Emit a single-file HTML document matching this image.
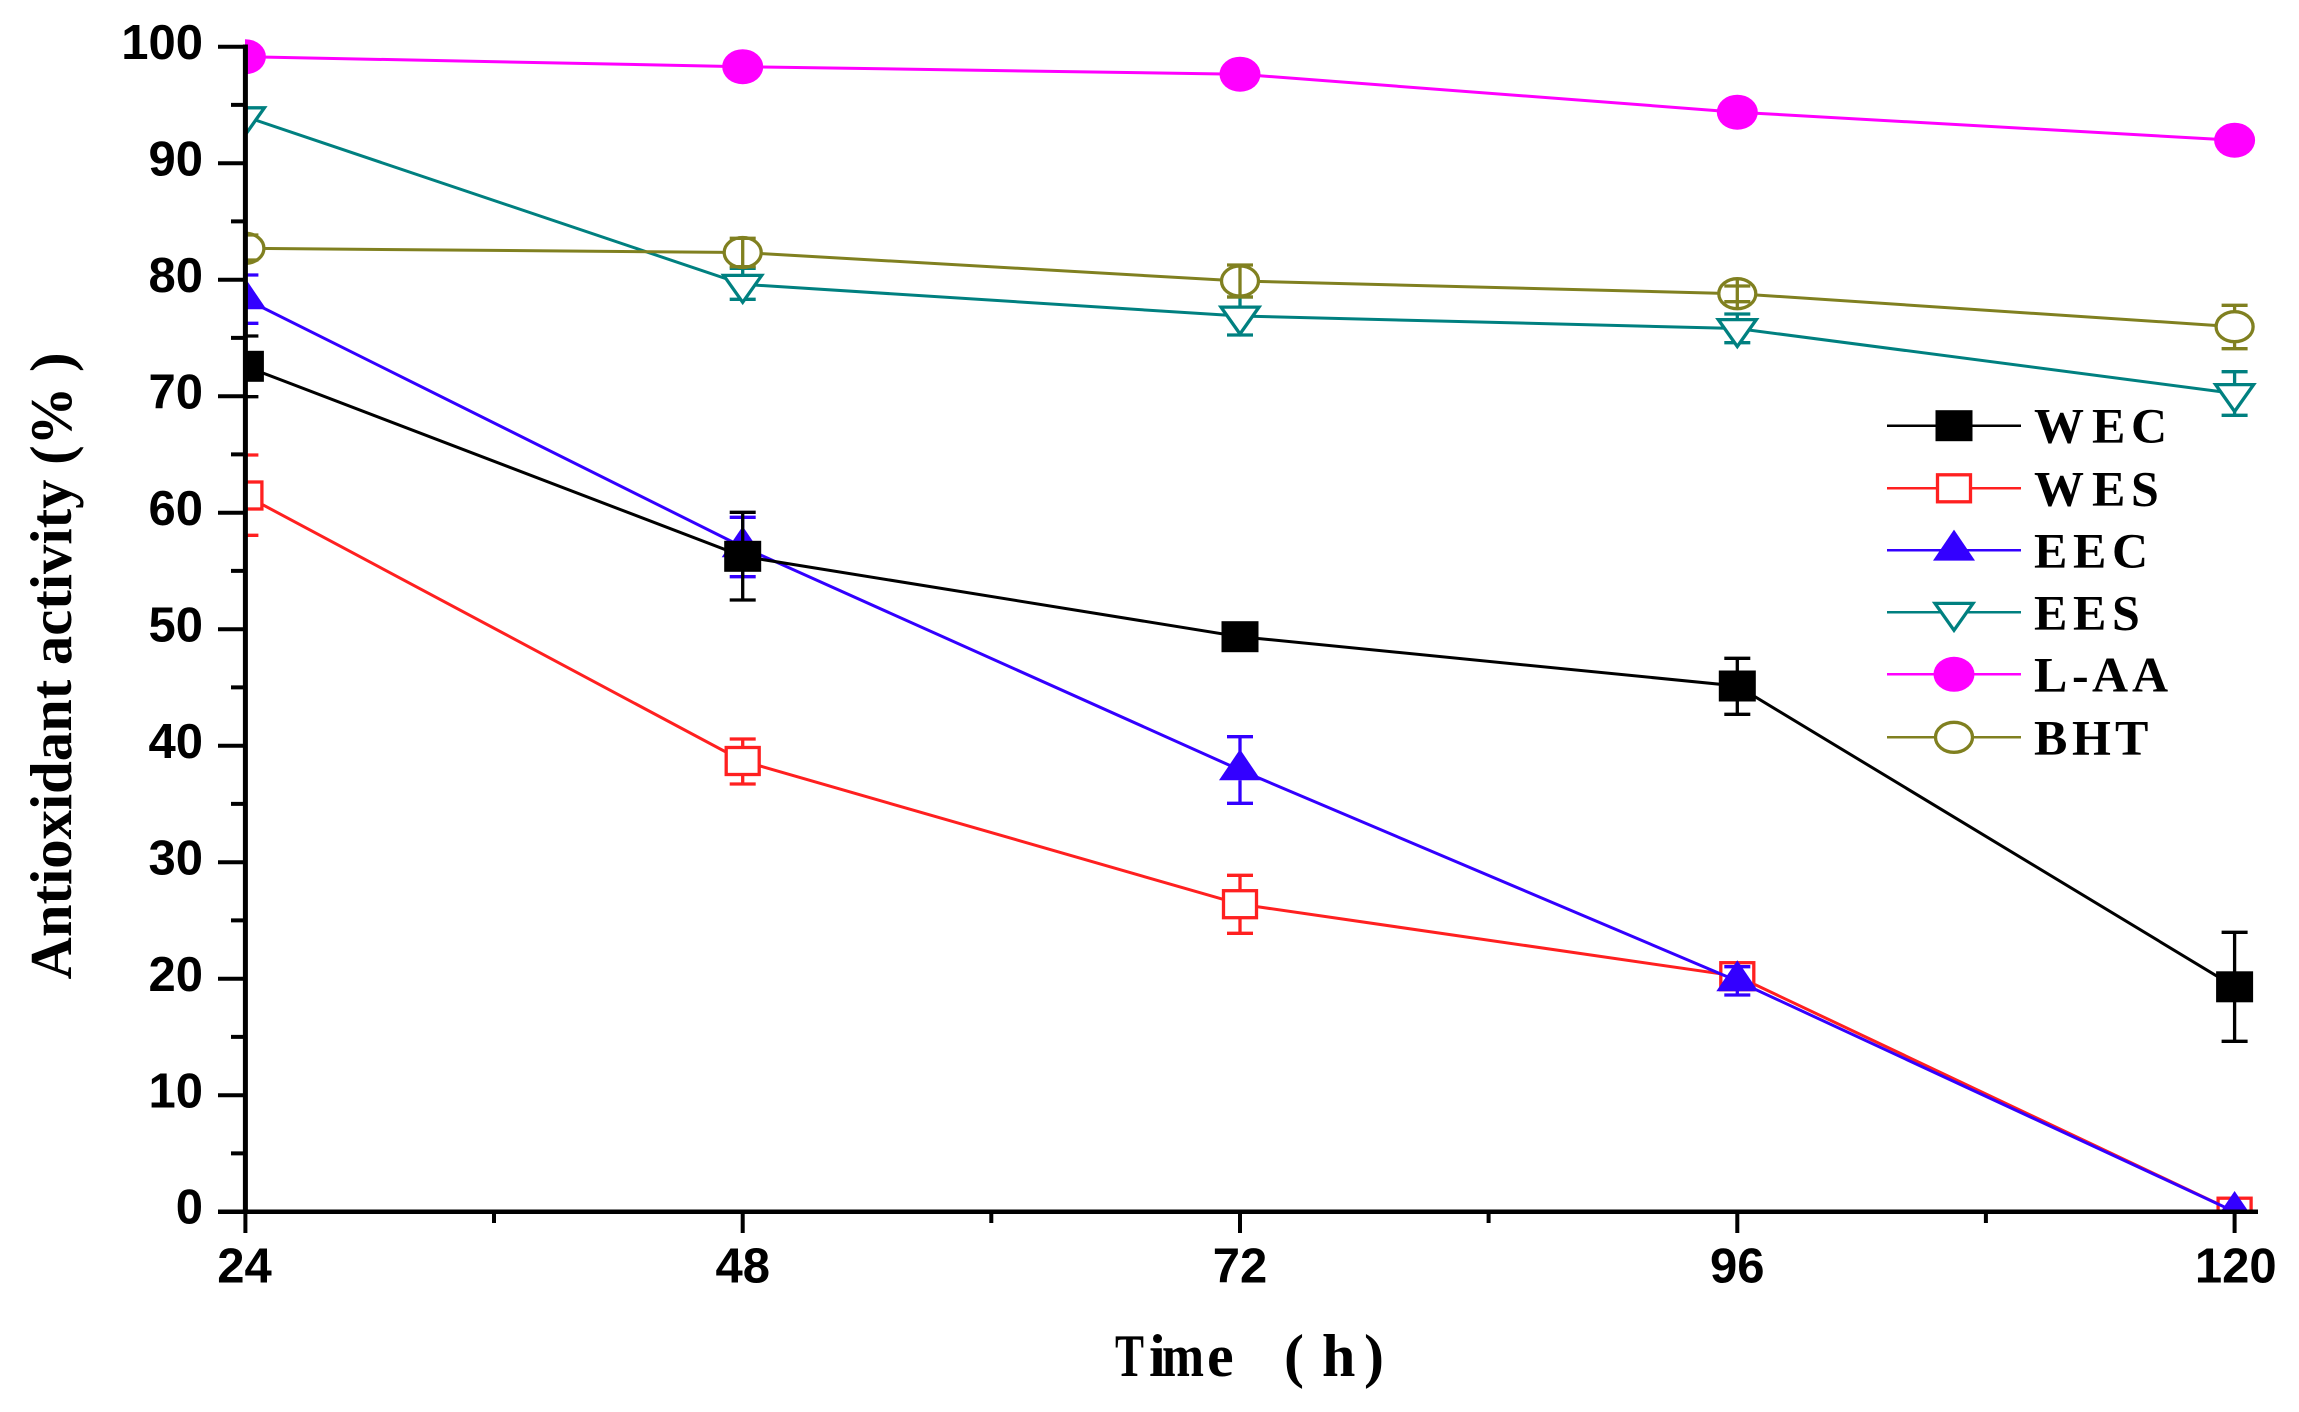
<!DOCTYPE html>
<html>
<head>
<meta charset="utf-8">
<style>
  html, body { margin: 0; padding: 0; background: #ffffff; }
  svg { display: block; }
  .tick { font-family: "Liberation Sans", Arial, sans-serif; font-weight: bold; font-size: 49px; fill: #000; }
  .ttl { font-family: "Liberation Serif", "Times New Roman", serif; font-weight: bold; fill: #000; }
  .leg { font-family: "Liberation Serif", "Times New Roman", serif; font-weight: bold; font-size: 50px; fill: #000; }
</style>
</head>
<body>
<svg width="2299" height="1412" viewBox="0 0 2299 1412" xmlns="http://www.w3.org/2000/svg">
  <rect x="0" y="0" width="2299" height="1412" fill="#ffffff"/>
  <defs>
    <clipPath id="plot">
      <rect x="245" y="0" width="2054" height="1211.7"/>
    </clipPath>
  </defs>

  <g clip-path="url(#plot)">
    <!-- WES (red open square) -->
    <g>
      <polyline points="245.4,495.5 742.7,761 1240,904.2 1737.3,976.2 2234.6,1211.7" fill="none" stroke="#ff2020" stroke-width="3"/>
      <g fill="#ffffff" stroke="#ff2020" stroke-width="3.3">
        <rect x="228.9" y="482" width="33" height="27"/>
        <rect x="726.2" y="747.5" width="33" height="27"/>
        <rect x="1223.5" y="890.7" width="33" height="27"/>
        <rect x="1720.8" y="962.7" width="33" height="27"/>
        <rect x="2218.1" y="1198.2" width="33" height="27"/>
      </g>
      <g stroke="#ff2020" stroke-width="3.3" fill="none">
        <path d="M245.4,455V482 M245.4,509V535.3 M232.4,455H258.4 M232.4,535.3H258.4"/>
        <path d="M742.7,739V747.5 M742.7,774.5V784 M729.7,739H755.7 M729.7,784H755.7"/>
        <path d="M1240,875.3V890.7 M1240,917.7V933.3 M1227,875.3H1253 M1227,933.3H1253"/>
      </g>
    </g>

    <!-- EEC (blue filled triangle) -->
    <g>
      <polyline points="245.4,299 742.7,547 1240,770 1737.3,981 2234.6,1211.7" fill="none" stroke="#3300ff" stroke-width="3"/>
      <g fill="#3300ff">
        <polygon points="245.4,278.3 224.4,309.3 266.4,309.3"/>
        <polygon points="742.7,526.3 721.7,557.3 763.7,557.3"/>
        <polygon points="1240,749.3 1219,780.3 1261,780.3"/>
        <polygon points="1737.3,960.3 1716.3,991.3 1758.3,991.3"/>
        <polygon points="2234.6,1191 2213.6,1222 2255.6,1222"/>
      </g>
      <g stroke="#3300ff" stroke-width="3.3" fill="none">
        <path d="M245.4,275V323.3 M232.4,275H258.4 M232.4,323.3H258.4"/>
        <path d="M742.7,517.3V576.7 M729.7,517.3H755.7 M729.7,576.7H755.7"/>
        <path d="M1240,736.7V752 M1240,780.3V803.3 M1227,736.7H1253 M1227,803.3H1253"/>
        <path d="M1737.3,966.7V995 M1724.3,966.7H1750.3 M1724.3,995H1750.3"/>
      </g>
    </g>

    <!-- WEC (black filled square) -->
    <g>
      <polyline points="245.4,366.3 742.7,556.3 1240,636.7 1737.3,686 2234.6,986.8" fill="none" stroke="#000000" stroke-width="3"/>
      <g fill="#000000">
        <rect x="226.9" y="350.8" width="37" height="31"/>
        <rect x="724.2" y="540.8" width="37" height="31"/>
        <rect x="1221.5" y="621.2" width="37" height="31"/>
        <rect x="1718.8" y="670.5" width="37" height="31"/>
        <rect x="2216.1" y="971.3" width="37" height="31"/>
      </g>
      <g stroke="#000000" stroke-width="3.3" fill="none">
        <path d="M245.4,336V396.7 M232.4,336H258.4 M232.4,396.7H258.4"/>
        <path d="M742.7,512.3V600 M729.7,512.3H755.7 M729.7,600H755.7"/>
        <path d="M1737.3,658.3V714.3 M1724.3,658.3H1750.3 M1724.3,714.3H1750.3"/>
        <path d="M2234.6,932.3V1041.3 M2221.6,932.3H2247.6 M2221.6,1041.3H2247.6"/>
      </g>
    </g>

    <!-- EES (teal open inverted triangle) -->
    <g>
      <polyline points="245.4,116.7 742.7,284.3 1240,316 1737.3,328.5 2234.6,393.5" fill="none" stroke="#008080" stroke-width="3"/>
      <g stroke="#008080" stroke-width="3.3" fill="none">
        <path d="M742.7,268.3V299.3 M729.7,268.3H755.7 M729.7,299.3H755.7"/>
        <path d="M1240,297V335 M1227,297H1253 M1227,335H1253"/>
        <path d="M1737.3,314V342.7 M1724.3,314H1750.3 M1724.3,342.7H1750.3"/>
        <path d="M2234.6,371.7V415.3 M2221.6,371.7H2247.6 M2221.6,415.3H2247.6"/>
      </g>
      <g fill="#ffffff" stroke="#008080" stroke-width="3.3" stroke-linejoin="miter">
        <polygon points="226.4,107.8 264.4,107.8 245.4,134.7"/>
        <polygon points="723.7,275.4 761.7,275.4 742.7,302.3"/>
        <polygon points="1221,307.1 1259,307.1 1240,334"/>
        <polygon points="1718.3,319.6 1756.3,319.6 1737.3,346.5"/>
        <polygon points="2215.6,384.6 2253.6,384.6 2234.6,411.5"/>
      </g>
    </g>

    <!-- BHT (olive open circle) -->
    <g>
      <polyline points="245.4,248.3 742.7,252.5 1240,281 1737.3,293.7 2234.6,326.7" fill="none" stroke="#808020" stroke-width="3"/>
      <g fill="#ffffff" stroke="#808020" stroke-width="3.3">
        <ellipse cx="245.4" cy="248.3" rx="18.5" ry="15"/>
        <ellipse cx="742.7" cy="252.5" rx="18.5" ry="15"/>
        <ellipse cx="1240" cy="281" rx="18.5" ry="15"/>
        <ellipse cx="1737.3" cy="293.7" rx="18.5" ry="15"/>
        <ellipse cx="2234.6" cy="326.7" rx="18.5" ry="15"/>
      </g>
      <g stroke="#808020" stroke-width="3.3" fill="none">
        <path d="M245.4,235V260 M232.4,235H258.4 M232.4,260H258.4"/>
        <path d="M742.7,238.3V266.7 M729.7,238.3H755.7 M729.7,266.7H755.7"/>
        <path d="M1240,265V297 M1227,265H1253 M1227,297H1253"/>
        <path d="M1737.3,280V307.7 M1724.3,286H1750.3 M1724.3,301.7H1750.3"/>
        <path d="M2234.6,305.3V311.7 M2234.6,341.7V348.7 M2221.6,305.3H2247.6 M2221.6,348.7H2247.6"/>
      </g>
    </g>

    <!-- L-AA (magenta filled circle) -->
    <g>
      <polyline points="245.4,56.7 742.7,66.7 1240,74.2 1737.3,112.2 2234.6,140.2" fill="none" stroke="#ff00ff" stroke-width="3"/>
      <g fill="#ff00ff">
        <ellipse cx="245.4" cy="56.7" rx="20.5" ry="17.5"/>
        <ellipse cx="742.7" cy="66.7" rx="20.5" ry="17.5"/>
        <ellipse cx="1240" cy="74.2" rx="20.5" ry="17.5"/>
        <ellipse cx="1737.3" cy="112.2" rx="20.5" ry="17.5"/>
        <ellipse cx="2234.6" cy="140.2" rx="20.5" ry="17.5"/>
      </g>
    </g>
  </g>

  <!-- Axes -->
  <g stroke="#000000" fill="none">
    <line x1="245.4" y1="44.5" x2="245.4" y2="1214" stroke-width="5"/>
    <line x1="218" y1="1211.7" x2="2258" y2="1211.7" stroke-width="4.5"/>
    <path stroke-width="4" d="M218,46.7H245 M218,163.2H245 M218,279.7H245 M218,396.2H245 M218,512.7H245 M218,629.2H245 M218,745.7H245 M218,862.2H245 M218,978.7H245 M218,1095.2H245"/>
    <path stroke-width="4" d="M231,104.9H245 M231,221.4H245 M231,337.9H245 M231,454.4H245 M231,570.9H245 M231,687.4H245 M231,803.9H245 M231,920.4H245 M231,1036.9H245 M231,1153.4H245"/>
    <path stroke-width="4" d="M245.4,1211V1233 M742.7,1211V1233 M1240,1211V1233 M1737.3,1211V1233 M2234.6,1211V1233"/>
    <path stroke-width="4" d="M494,1211V1223 M991.3,1211V1223 M1488.6,1211V1223 M1985.9,1211V1223"/>
  </g>

  <!-- Y tick labels -->
  <g class="tick" text-anchor="end">
    <text x="203" y="59.2">100</text>
    <text x="203" y="175.7">90</text>
    <text x="203" y="292.2">80</text>
    <text x="203" y="408.7">70</text>
    <text x="203" y="525.2">60</text>
    <text x="203" y="641.7">50</text>
    <text x="203" y="758.2">40</text>
    <text x="203" y="874.7">30</text>
    <text x="203" y="991.2">20</text>
    <text x="203" y="1107.7">10</text>
    <text x="203" y="1223.5">0</text>
  </g>

  <!-- X tick labels -->
  <g class="tick" text-anchor="middle">
    <text x="244.5" y="1282.5">24</text>
    <text x="742.7" y="1282.5">48</text>
    <text x="1240" y="1282.5">72</text>
    <text x="1737.3" y="1282.5">96</text>
    <text x="2235.7" y="1282.5">120</text>
  </g>

  <!-- X axis title -->
  <g class="ttl" font-size="60">
    <text x="1115" y="1376" textLength="29" lengthAdjust="spacingAndGlyphs">T</text>
    <text x="1149" y="1376">i</text>
    <text x="1162" y="1376" textLength="42" lengthAdjust="spacingAndGlyphs">m</text>
    <text x="1207" y="1376">e</text>
    <text x="1284" y="1376">(</text>
    <text x="1322" y="1376">h</text>
    <text x="1364" y="1376">)</text>
  </g>

  <!-- Y axis title -->
  <text class="ttl" font-size="59" text-anchor="middle" transform="translate(71,666) rotate(-90)" textLength="627" lengthAdjust="spacingAndGlyphs">Antioxidant activity (% )</text>

  <!-- Legend -->
  <g>
    <line x1="1887" y1="425.7" x2="2021" y2="425.7" stroke="#000000" stroke-width="2.5"/>
    <rect x="1935.5" y="410.2" width="37" height="31" fill="#000000"/>
    <line x1="1887" y1="488.3" x2="2021" y2="488.3" stroke="#ff2020" stroke-width="2.5"/>
    <rect x="1937.5" y="474.8" width="33" height="27" fill="#ffffff" stroke="#ff2020" stroke-width="3.3"/>
    <line x1="1887" y1="550.3" x2="2021" y2="550.3" stroke="#3300ff" stroke-width="2.5"/>
    <polygon points="1954,529.6 1933,560.6 1975,560.6" fill="#3300ff"/>
    <line x1="1887" y1="612.3" x2="2021" y2="612.3" stroke="#008080" stroke-width="2.5"/>
    <polygon points="1935,603.4 1973,603.4 1954,630.3" fill="#ffffff" stroke="#008080" stroke-width="3.3"/>
    <line x1="1887" y1="674.3" x2="2021" y2="674.3" stroke="#ff00ff" stroke-width="2.5"/>
    <ellipse cx="1954" cy="674.3" rx="20.5" ry="17.5" fill="#ff00ff"/>
    <line x1="1887" y1="737.3" x2="2021" y2="737.3" stroke="#808020" stroke-width="2.5"/>
    <ellipse cx="1954" cy="737.3" rx="18.5" ry="15" fill="#ffffff" stroke="#808020" stroke-width="3.3"/>

    <g class="leg">
      <text y="442.7"><tspan x="2034">W</tspan><tspan x="2092">E</tspan><tspan x="2131">C</tspan></text>
      <text y="505.3"><tspan x="2034">W</tspan><tspan x="2092">E</tspan><tspan x="2131">S</tspan></text>
      <text y="567.3"><tspan x="2034">E</tspan><tspan x="2073">E</tspan><tspan x="2112">C</tspan></text>
      <text y="629.3"><tspan x="2034">E</tspan><tspan x="2073">E</tspan><tspan x="2112">S</tspan></text>
      <text y="691.3"><tspan x="2034">L</tspan><tspan x="2072">-</tspan><tspan x="2092">A</tspan><tspan x="2132">A</tspan></text>
      <text y="754.3"><tspan x="2034">B</tspan><tspan x="2072">H</tspan><tspan x="2115">T</tspan></text>
    </g>
  </g>
</svg>
</body>
</html>
